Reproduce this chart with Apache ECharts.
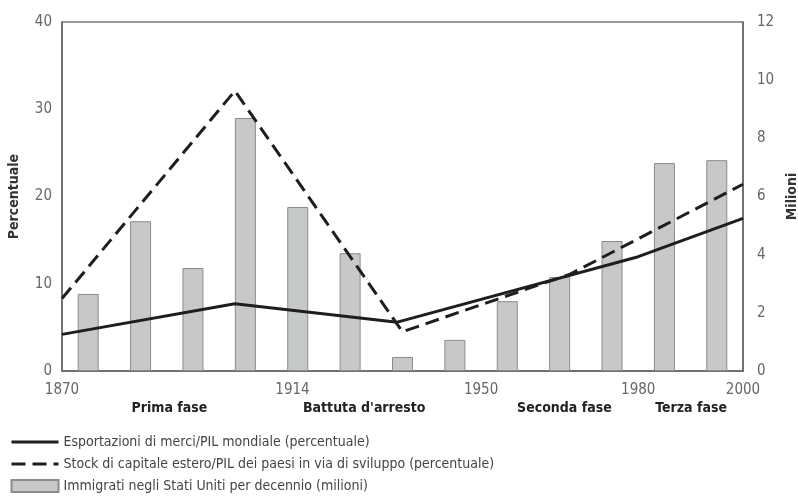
<!DOCTYPE html>
<html>
<head>
<meta charset="utf-8">
<script src="https://cdn.jsdelivr.net/npm/echarts@6/dist/echarts.min.js"></script>
<style>
html,body{margin:0;padding:0;background:#fff;}
#c{width:798px;height:498px;}
</style>
</head>
<body>
<div id="c"></div>
<script>
// ---- data ----
const decadeMid = [1875,1885,1895,1905,1915,1925,1935,1945,1955,1965,1975,1985,1995];
const immigrants = [2.65,5.15,3.54,8.7,5.64,4.05,0.48,1.07,2.4,3.23,4.47,7.15,7.25];
const exportYears = [1870,1903,1934,1980,2000];
const exportVals = [4.2,7.7,5.6,13.1,17.5];
const capitalYears = [1870,1903,1935,1967,2000];
const capitalVals = [8.3,32.1,4.5,11.1,21.4];
const xTickLabels = [1870,1914,1950,1980,2000];
const phaseLabels = ['Prima fase','Battuta d\'arresto','Seconda fase','Terza fase'];
const phaseCenters = [1890.5,1927.7,1965.9,1990.1];
const names = [
  'Esportazioni di merci/PIL mondiale (percentuale)',
  'Stock di capitale estero/PIL dei paesi in via di sviluppo (percentuale)',
  'Immigrati negli Stati Uniti per decennio (milioni)'
];

const FONT = "'Liberation Sans Narrow','DejaVu Sans Condensed','Roboto Condensed',sans-serif";
const chart = echarts.init(document.getElementById('c'), null, {renderer:'canvas'});

const GL = 62, GR = 743;
function xPix(year){ return GL + (year-1870)/(2000-1870)*(GR-GL); }

const option = {
  animation:false,
  textStyle:{fontFamily:FONT},
  grid:{left:GL, right:798-GR, top:22, bottom:498-371, outerBoundsMode:'none', containLabel:false,
        show:true, borderColor:'#777', borderWidth:1.5},
  xAxis:{
    type:'value', min:1870, max:2000,
    axisLine:{show:true, lineStyle:{color:'#666', width:1.5}},
    axisTick:{show:false},
    splitLine:{show:false},
    axisLabel:{customValues:xTickLabels, color:'#666', fontSize:15, fontFamily:FONT, margin:12,
      formatter:v=>String(v)}
  },
  yAxis:[
    {type:'value', min:0, max:40, interval:10,
     name:'Percentuale', nameLocation:'middle', nameRotate:90, nameGap:41,
     nameTextStyle:{fontWeight:'bold', fontSize:14, color:'#333', fontFamily:FONT},
     axisLine:{show:true, lineStyle:{color:'#666', width:1.5}}, axisTick:{show:false},
     splitLine:{show:false},
     axisLabel:{color:'#666', fontSize:15, fontFamily:FONT, margin:10}},
    {type:'value', min:0, max:12, interval:2, position:'right',
     name:'Milioni', nameLocation:'middle', nameRotate:90, nameGap:42,
     nameTextStyle:{fontWeight:'bold', fontSize:14, color:'#333', fontFamily:FONT},
     axisLine:{show:true, lineStyle:{color:'#666', width:1.5}}, axisTick:{show:false},
     splitLine:{show:false},
     axisLabel:{color:'#666', fontSize:15, fontFamily:FONT, margin:14}}
  ],
  legend:{
    orient:'vertical', left:5, top:430, itemGap:8, itemWidth:47, itemHeight:12,
    textStyle:{fontFamily:FONT, fontSize:14, color:'#444'},
    data:[
      {name:names[0], itemStyle:{opacity:0}, lineStyle:{width:3, color:'#1e1e1e'}},
      {name:names[1], itemStyle:{opacity:0}, lineStyle:{width:3, color:'#1e1e1e', type:[14,7]}},
      {name:names[2], icon:'rect'}
    ]
  },
  series:[
    {name:names[2], type:'bar', yAxisIndex:1, barWidth:21,
     itemStyle:{color:'#c6c8c9', borderColor:'#8a8c8d', borderWidth:1},
     data:decadeMid.map((y,i)=>[y, immigrants[i]]), z:1},
    {name:names[0], type:'line', yAxisIndex:0, symbol:'none', color:'#1e1e1e',
     lineStyle:{color:'#1e1e1e', width:3},
     data:exportYears.map((y,i)=>[y, exportVals[i]]), z:3},
    {name:names[1], type:'line', yAxisIndex:0, symbol:'none', color:'#1e1e1e',
     lineStyle:{color:'#1e1e1e', width:3, type:[14,7]},
     data:capitalYears.map((y,i)=>[y, capitalVals[i]]), z:3}
  ],
  graphic: phaseLabels.map((t,i)=>({
    type:'text', x:xPix(phaseCenters[i]), y:401,
    style:{text:t, fill:'#222', font:'bold 14px '+FONT, align:'center'}
  }))
};
chart.setOption(option);
</script>
</body>
</html>
